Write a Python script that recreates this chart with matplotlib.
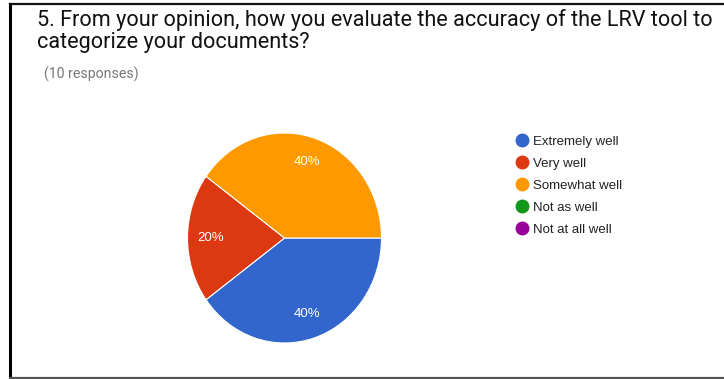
import matplotlib.pyplot as plt
from matplotlib.lines import Line2D

# survey answers
categories = ['Extremely well', 'Very well', 'Somewhat well', 'Not as well', 'Not at all well']
counts = [4, 2, 4, 0, 0]
colors = ['#3366cc', '#dc3912', '#ff9900', '#109618', '#990099']
title = '5. From your opinion, how you evaluate the accuracy of the LRV tool to\ncategorize your documents?'
subtitle = '(10 responses)'

W, H = 724, 379
fig = plt.figure(figsize=(W / 100, H / 100), dpi=100)
fig.patch.set_facecolor('white')

# frame around the card (pixel coords overlay)
bg = fig.add_axes([0, 0, 1, 1])
bg.set_xlim(0, W)
bg.set_ylim(H, 0)
bg.axis('off')
bg.plot([10, W], [4, 4], color='#111111', lw=1.6)
bg.plot([10, 10], [4, H], color='#000000', lw=2.2)
bg.plot([10, W], [377.5, 377.5], color='#555555', lw=1.6)

fig.text(37 / W, 1 - 9 / H, title, fontsize=15.6, family=['Roboto', 'DejaVu Sans'],
         color='#111111', va='top', ha='left', linespacing=1.04)
fig.text(44 / W, 1 - 67 / H, subtitle, fontsize=10.2, family=['Roboto', 'DejaVu Sans'],
         color='#777777', va='top', ha='left')

# pie (slightly squashed like the screenshot)
cx, cy, rx, ry = 284.5, 238, 97, 105
ax = fig.add_axes([(cx - rx) / W, 1 - (cy + ry) / H, 2 * rx / W, 2 * ry / H])
nz = [(c, v, col) for c, v, col in zip(categories, counts, colors) if v > 0]
wedges, texts, autotexts = ax.pie(
    [v for _, v, _ in nz], colors=[col for _, _, col in nz],
    startangle=0, counterclock=False,
    autopct=lambda p: '%d%%' % round(p), pctdistance=0.76,
    wedgeprops=dict(edgecolor='white', linewidth=0.8),
    textprops=dict(color='white', fontsize=9.5, family=['Liberation Sans', 'DejaVu Sans']))
ax.set_aspect('auto')
ax.set_xlim(-1, 1)
ax.set_ylim(-1, 1)

handles = [Line2D([], [], marker='o', linestyle='none', markersize=9,
                  markerfacecolor=c, markeredgecolor=c) for c in colors]
fig.legend(handles, categories, loc='upper left',
           bbox_to_anchor=(510 / W, 1 - 129 / H), frameon=False,
           prop=dict(family=['Liberation Sans', 'DejaVu Sans'], size=9.5),
           handlelength=0.8, handletextpad=0.45, labelspacing=0.74,
           borderpad=0, labelcolor='#222222')

fig.savefig('out.png', dpi=100, facecolor='white')
